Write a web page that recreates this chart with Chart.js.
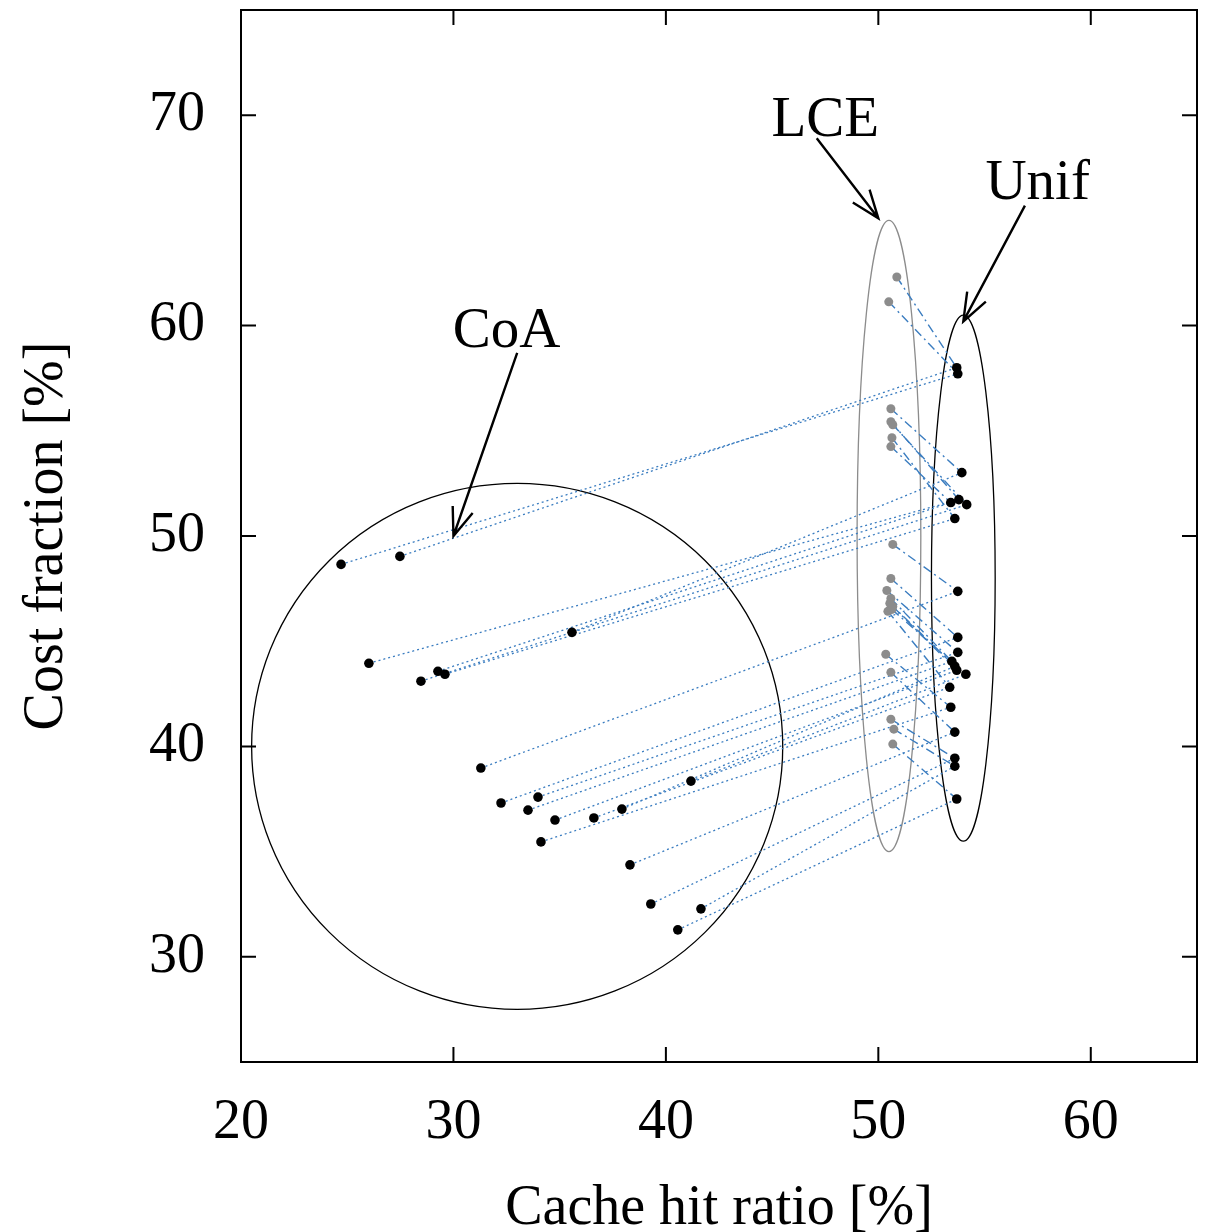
<!DOCTYPE html>
<html>
<head>
<meta charset="utf-8">
<script src="https://cdn.jsdelivr.net/npm/chart.js@4.4.1/dist/chart.umd.min.js"></script>
<style>
html,body{margin:0;padding:0;background:#fff}
#wrap{width:1205px;height:1232px;position:relative}
</style>
</head>
<body>
<div id="wrap"><canvas id="c"></canvas></div>
<script>
// Cost fraction vs cache hit ratio: CoA / LCE / Unif, links join the same scenario

const unifX=[53.69,53.74,53.93,53.79,53.41,54.16,53.60,53.74,53.74,53.74,53.46,53.69,54.12,53.36,53.41,53.60,53.60,53.60,53.69,53.60];
const unifY=[58.00,57.71,53.01,51.73,51.59,51.49,50.83,47.37,45.18,44.47,44.04,43.62,43.43,42.81,41.86,40.68,39.44,39.06,37.50,43.81];

const coaX=[24.71,27.48,26.02,28.47,29.27,29.60,35.58,31.29,32.24,33.98,33.51,34.78,34.12,36.61,37.93,41.18,38.31,39.29,41.65,40.56];
const coaY=[48.65,49.03,43.95,43.10,43.57,43.43,45.42,38.97,37.31,37.59,36.97,36.50,35.46,36.60,37.02,38.35,34.37,32.51,32.28,31.28];
const coaTo=[1,0,3,5,4,6,2,7,8,9,10,11,14,13,19,12,15,16,17,18];

const lceX=[50.87,50.49,50.59,50.59,50.68,50.64,50.59,50.68,50.59,50.40,50.59,50.68,50.45,50.54,50.64,50.35,50.59,50.59,50.73,50.68];
const lceY=[62.31,61.13,56.05,55.43,55.29,54.67,54.25,49.60,47.98,47.41,47.03,46.65,46.42,46.80,46.51,44.38,43.52,41.29,40.82,40.11];
const lceTo=[0,1,2,3,5,6,4,7,8,9,10,11,13,19,12,14,15,16,17,18];

const xTicks=[20,30,40,50,60];
const yTicks=[30,40,50,60,70];

// group outlines: centre and half-axes in data units
const ellCx=[33,50.5,54],ellCy=[40,50,48],ellRx=[12.5,1.5,1.5],ellRy=[12.5,15,12.5];

// labels with arrows
const annText=["CoA","LCE","Unif"];
const annX=[32.5,47.5,57.5],annY=[59,69,66];
const arrFromX=[33,47.1,56.9],arrFromY=[58.7,68.9,65.7];
const arrToX=[30,50,54],arrToY=[50,65.1,60.2];

const FONT="'Liberation Serif','Times New Roman',serif";
const BLUE="#3b7dc0";
const ellColor=["#000","#8c8c8c","#000"];

const pts=(xs,ys)=>xs.map((x,i)=>({x,y:ys[i]}));
const links=[];
coaTo.forEach((u,i)=>links.push({type:"line",data:[{x:coaX[i],y:coaY[i]},{x:unifX[u],y:unifY[u]}],borderColor:BLUE,borderWidth:1.3,borderDash:[2,3],pointRadius:0,showLine:true,order:2}));
lceTo.forEach((u,i)=>links.push({type:"line",data:[{x:lceX[i],y:lceY[i]},{x:unifX[u],y:unifY[u]}],borderColor:BLUE,borderWidth:1.4,borderDash:[9,4,2,4],pointRadius:0,showLine:true,order:2}));

const deco={id:"deco",
  beforeDatasetsDraw(ch){
    const {ctx,scales:{x,y}}=ch;
    ctx.save();
    ellCx.forEach((cx,i)=>{
      const px=x.getPixelForValue(cx),py=y.getPixelForValue(ellCy[i]);
      const rx=Math.abs(x.getPixelForValue(cx+ellRx[i])-px),ry=Math.abs(y.getPixelForValue(ellCy[i]+ellRy[i])-py);
      ctx.beginPath();ctx.ellipse(px,py,rx,ry,0,0,Math.PI*2);
      ctx.strokeStyle=ellColor[i];ctx.lineWidth=1.3;ctx.stroke();
    });
    ctx.restore();
  },
  afterDraw(ch){
    const {ctx,chartArea:a,scales:{x,y}}=ch;
    ctx.save();
    ctx.strokeStyle="#000";ctx.lineWidth=2;
    ctx.strokeRect(a.left,a.top,a.right-a.left,a.bottom-a.top);
    const tl=15;
    ctx.beginPath();
    xTicks.forEach(v=>{const p=x.getPixelForValue(v);ctx.moveTo(p,a.bottom);ctx.lineTo(p,a.bottom-tl);ctx.moveTo(p,a.top);ctx.lineTo(p,a.top+tl)});
    yTicks.forEach(v=>{const p=y.getPixelForValue(v);ctx.moveTo(a.left,p);ctx.lineTo(a.left+tl,p);ctx.moveTo(a.right,p);ctx.lineTo(a.right-tl,p)});
    ctx.stroke();
    // arrows
    ctx.lineWidth=2.4;
    annText.forEach((t,i)=>{
      const x0=x.getPixelForValue(arrFromX[i]),y0=y.getPixelForValue(arrFromY[i]);
      const x1=x.getPixelForValue(arrToX[i]),y1=y.getPixelForValue(arrToY[i]);
      const ang=Math.atan2(y1-y0,x1-x0),L=30,h=0.36;
      ctx.beginPath();ctx.moveTo(x0,y0);ctx.lineTo(x1,y1);
      ctx.moveTo(x1-L*Math.cos(ang-h),y1-L*Math.sin(ang-h));ctx.lineTo(x1,y1);
      ctx.lineTo(x1-L*Math.cos(ang+h),y1-L*Math.sin(ang+h));
      ctx.stroke();
      ctx.fillStyle="#000";ctx.font="57px "+FONT;ctx.textAlign="center";ctx.textBaseline="alphabetic";
      ctx.fillText(t,x.getPixelForValue(annX[i]),y.getPixelForValue(annY[i]));
    });
    ctx.restore();
  }
};

new Chart(document.getElementById("c"),{
  type:"scatter",
  data:{datasets:[
    {label:"Unif",data:pts(unifX,unifY),backgroundColor:"#000",borderColor:"#000",pointRadius:4.8,borderWidth:0,order:0},
    {label:"CoA",data:pts(coaX,coaY),backgroundColor:"#000",borderColor:"#000",pointRadius:4.8,borderWidth:0,order:0},
    {label:"LCE",data:pts(lceX,lceY),backgroundColor:"#8c8c8c",borderColor:"#8c8c8c",pointRadius:4.5,borderWidth:0,order:1},
    ...links
  ]},
  options:{
    responsive:true,maintainAspectRatio:false,animation:false,
    layout:{padding:{top:10,right:8,left:0,bottom:0}},
    plugins:{legend:{display:false},tooltip:{enabled:false}},
    scales:{
      x:{type:"linear",min:20,max:65,
        afterBuildTicks:s=>{s.ticks=xTicks.map(v=>({value:v}))},
        afterFit:s=>{s.height=170;s.paddingLeft=0;s.paddingRight=0},
        grid:{display:false},border:{display:false},
        ticks:{padding:20,color:"#000",font:{family:FONT,size:56},maxRotation:0,autoSkip:false},
        title:{display:true,text:"Cache hit ratio [%]",color:"#000",font:{family:FONT,size:56},padding:{top:0,bottom:-11}}},
      y:{type:"linear",min:25,max:75,
        afterBuildTicks:s=>{s.ticks=yTicks.map(v=>({value:v}))},
        afterFit:s=>{s.width=241;s.paddingTop=0;s.paddingBottom=0},
        grid:{display:false},border:{display:false},
        ticks:{padding:28,color:"#000",font:{family:FONT,size:56},autoSkip:false},
        title:{display:true,text:"Cost fraction [%]",color:"#000",font:{family:FONT,size:56},padding:{top:14,bottom:0}}}
    }
  },
  plugins:[deco]
});
</script>
</body>
</html>
